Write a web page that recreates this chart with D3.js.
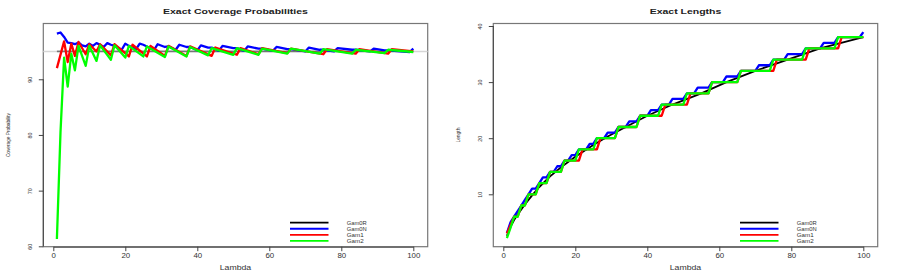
<!DOCTYPE html>
<html>
<head>
<meta charset="utf-8">
<script src="https://cdn.jsdelivr.net/npm/d3@7"></script>
<style>
  body { margin: 0; background: #fff; }
  svg text { font-family: "Liberation Sans", Arial, sans-serif; fill: #222; }
</style>
</head>
<body>
<svg id="chart" width="900" height="277"></svg>
<script>
// Series names, colours and tick values
const seriesNames = ["Gam0R", "Gam0N", "Gam1", "Gam2"];
const seriesColors = ["#000000", "#0000ff", "#ff0000", "#00ff00"];
const xTicks = [0, 20, 40, 60, 80, 100];
const covTicks = [60, 70, 80, 90];
const lenTicks = [10, 20, 30, 40];
const covTarget = 95;

// Coverage probabilities (%) as [lambda, value]
const covGam0R = [[1, 95], [100, 95]];
const covGam0N = [[1, 98.2], [2, 98.4], [3, 97.6], [4, 96.6], [5, 96.5], [6, 96.3], [7, 96.6], [8, 96.1], [9, 95.9],
  [10, 96.4], [11, 96.0], [12, 96.5], [13, 96.2], [14, 95.8], [15, 96.5], [16, 96.2], [17, 96.0], [19, 95.3],
  [20, 96.4], [21, 96.0], [23, 95.4], [24, 96.4], [25, 96.2], [26, 95.9], [28, 95.3], [29, 96.3], [31, 95.8],
  [32, 95.9], [34, 95.3], [35, 96.2], [37, 95.8], [38, 95.8], [40, 95.2], [41, 96.1], [43, 95.7], [44, 95.7],
  [46, 95.1], [47, 96.0], [50, 95.6], [51, 95.6], [53, 95.1], [54, 95.9], [57, 95.5], [58, 95.5], [61, 95.1],
  [62, 95.8], [65, 95.4], [66, 95.4], [70, 95.0], [71, 95.7], [74, 95.3], [75, 95.3], [78, 95.0], [79, 95.6],
  [83, 95.3], [84, 95.3], [88, 95.0], [89, 95.5], [92, 95.2], [93, 95.2], [99, 94.9], [100, 95.5]];
const covGam1 = [[1, 92.0], [3, 96.8], [4, 93.1], [5, 96.4], [6, 94.2], [7, 96.7], [9, 94.5], [10, 96.3], [12, 95.0],
  [13, 96.3], [16, 94.3], [17, 96.3], [21, 94.1], [22, 96.2], [26, 94.1], [27, 96.0], [31, 94.2], [32, 96.0],
  [37, 94.2], [38, 95.9], [44, 94.2], [45, 95.7], [51, 94.4], [52, 95.6], [57, 94.5], [58, 95.6], [65, 94.7],
  [66, 95.5], [75, 94.5], [76, 95.4], [84, 94.6], [85, 95.4], [93, 94.6], [94, 95.4], [100, 95.0]];
const covGam2 = [[1, 61.3], [2, 80.5], [3, 93.9], [4, 88.7], [5, 94.6], [6, 91.6], [7, 96.0], [9, 92.4], [10, 96.0],
  [12, 93.3], [13, 96.1], [16, 93.5], [17, 96.1], [20, 93.9], [21, 96.0], [25, 94.1], [26, 95.9], [31, 94.0],
  [32, 95.9], [37, 94.1], [38, 95.8], [43, 94.3], [44, 95.6], [50, 94.4], [51, 95.6], [57, 94.4], [58, 95.5],
  [65, 94.6], [66, 95.5], [74, 94.6], [75, 95.4], [83, 94.6], [84, 95.3], [92, 94.7], [93, 95.3], [100, 94.9]];

// Expected lengths as [lambda, value]
const lenGam0R = [[1, 2.6], [2, 4.2], [3, 5.4], [4, 6.4], [6, 8.2], [8, 9.8], [10, 11.3], [13, 13.2], [16, 14.8],
  [20, 16.7], [25, 18.8], [29, 20.3], [34, 22.0], [40, 24.0], [47, 26.0], [55, 28.0], [62, 30.0], [70, 32.0],
  [79, 34.0], [88, 36.0], [100, 38.0]];
const lenGam0N = [[1, 3.1], [2, 5], [3, 6], [4, 7], [5, 8], [6, 9], [7, 10], [8, 11], [9, 11], [10, 12], [11, 13],
  [12, 13], [13, 14], [14, 14], [15, 15], [16, 15], [17, 16], [18, 16], [19, 17], [20, 17], [21, 18], [23, 18],
  [24, 19], [25, 19], [26, 20], [28, 20], [29, 21], [31, 21], [32, 22], [34, 22], [35, 23], [37, 23], [38, 24],
  [40, 24], [41, 25], [43, 25], [44, 26], [46, 26], [47, 27], [50, 27], [51, 28], [53, 28], [54, 29], [57, 29],
  [58, 30], [61, 30], [62, 31], [65, 31], [66, 32], [70, 32], [71, 33], [74, 33], [75, 34], [78, 34], [79, 35],
  [83, 35], [84, 36], [88, 36], [89, 37], [92, 37], [93, 38], [99, 38], [100, 38.9]];
const lenGam1 = [[1, 3.0], [2, 4.5], [3, 6], [4, 6], [5, 8], [6, 8], [7, 10], [9, 10], [10, 12], [12, 12], [13, 14],
  [16, 14], [17, 16], [21, 16], [22, 18], [26, 18], [27, 20], [31, 20], [32, 22], [37, 22], [38, 24], [44, 24],
  [45, 26], [51, 26], [52, 28], [57, 28], [58, 30], [65, 30], [66, 32], [75, 32], [76, 34], [84, 34], [85, 36],
  [93, 36], [94, 38], [100, 38]];
const lenGam2 = [[1, 2.2], [2, 4], [3, 6], [4, 6], [5, 8], [6, 8], [7, 10], [9, 10], [10, 12], [12, 12], [13, 14],
  [16, 14], [17, 16], [20, 16], [21, 18], [25, 18], [26, 20], [31, 20], [32, 22], [37, 22], [38, 24], [43, 24],
  [44, 26], [50, 26], [51, 28], [57, 28], [58, 30], [65, 30], [66, 32], [74, 32], [75, 34], [83, 34], [84, 36],
  [92, 36], [93, 38], [100, 38]];

const svg = d3.select("#chart");

// Draws one R-style panel (box, axes, titles, series, legend)
function drawPanel(p) {
  const g = svg.append("g").attr("transform", `translate(${p.left},0)`);

  const xScale = d3.scaleLinear().domain([0, 100]).range([10, 370]);
  const yScale = d3.scaleLinear().domain(p.yDomain).range(p.yRange);

  const box = { x: 0, y: 23.5, w: 384.4, h: 223.2 };

  // plot box
  g.append("rect")
    .attr("x", box.x).attr("y", box.y)
    .attr("width", box.w).attr("height", box.h)
    .attr("fill", "none").attr("stroke", "#777").attr("stroke-width", 1.2);

  // reference line (abline)
  if (p.refLine != null) {
    g.append("line")
      .attr("x1", box.x).attr("x2", box.x + box.w)
      .attr("y1", yScale(p.refLine)).attr("y2", yScale(p.refLine))
      .attr("stroke", "#d6d6d6").attr("stroke-width", 1.5);
  }

  // x axis
  const xAxis = g.append("g")
    .attr("transform", `translate(0,${box.y + box.h})`)
    .call(d3.axisBottom(xScale).tickValues(xTicks).tickSize(4.5).tickSizeOuter(0));
  xAxis.select(".domain").attr("stroke", "#444");
  xAxis.selectAll(".tick line").attr("stroke", "#444");
  xAxis.selectAll("text")
    .attr("y", 11.6).attr("dy", null)
    .attr("font-size", "6.3px")
    .attr("textLength", (d) => String(d).length * 4.4)
    .attr("lengthAdjust", "spacingAndGlyphs")
    .style("fill", "#333");

  // y axis: R only draws the axis line between the first and last tick
  const yAxis = g.append("g")
    .call(d3.axisLeft(yScale).tickValues(p.yTicks).tickSize(4.5));
  yAxis.select(".domain").remove();
  yAxis.append("line")
    .attr("x1", 0).attr("x2", 0)
    .attr("y1", yScale(p.yTicks[0])).attr("y2", yScale(p.yTicks[p.yTicks.length - 1]))
    .attr("stroke", "#444");
  yAxis.selectAll(".tick line").attr("stroke", "#444");
  yAxis.selectAll("text")
    .attr("x", null).attr("dy", null)
    .attr("transform", "translate(-11.6,0) rotate(-90)")
    .attr("text-anchor", "middle")
    .attr("font-size", "5.6px")
    .attr("textLength", (d) => String(d).length * 3)
    .attr("lengthAdjust", "spacingAndGlyphs")
    .style("fill", "#333");

  // titles and axis labels
  g.append("text")
    .attr("x", box.x + box.w / 2).attr("y", 13.6)
    .attr("text-anchor", "middle")
    .attr("font-size", "7.4px").attr("font-weight", "bold")
    .attr("textLength", p.titleWidth).attr("lengthAdjust", "spacingAndGlyphs")
    .text(p.title);

  g.append("text")
    .attr("x", box.x + box.w / 2).attr("y", 270)
    .attr("text-anchor", "middle")
    .attr("font-size", "6.6px")
    .attr("textLength", 31.5).attr("lengthAdjust", "spacingAndGlyphs")
    .style("fill", "#333")
    .text("Lambda");

  g.append("text")
    .attr("transform", `translate(-33.3,${(box.y + box.y + box.h) / 2}) rotate(-90)`)
    .attr("text-anchor", "middle")
    .attr("font-size", "5.4px")
    .attr("textLength", p.yLabelWidth).attr("lengthAdjust", "spacingAndGlyphs")
    .style("fill", "#333")
    .text(p.yLabel);

  // series lines
  const line = d3.line()
    .x((d) => xScale(d[0]))
    .y((d) => yScale(d[1]));

  p.series.forEach((s, i) => {
    g.append("path")
      .datum(s)
      .attr("d", line)
      .attr("fill", "none")
      .attr("stroke", seriesColors[i])
      .attr("stroke-opacity", i === 0 && p.refLine != null ? 0.45 : 1)
      .attr("stroke-width", i === 0 ? 1.8 : 2.3)
      .attr("stroke-linejoin", "round");
  });

  // legend
  const legend = g.append("g").attr("transform", "translate(246.7,222.7)");
  seriesNames.forEach((name, i) => {
    legend.append("line")
      .attr("x1", 0).attr("x2", 38.5)
      .attr("y1", i * 6.05).attr("y2", i * 6.05)
      .attr("stroke", seriesColors[i]).attr("stroke-width", 1.8);
    legend.append("text")
      .attr("x", 56.7).attr("y", i * 6.05 + 2.1)
      .attr("font-size", "5.6px")
      .attr("textLength", name.length === 5 ? 20 : 17)
      .attr("lengthAdjust", "spacingAndGlyphs")
      .style("fill", "#333")
      .text(name);
  });
}

drawPanel({
  left: 43.3,
  title: "Exact Coverage Probabilities",
  titleWidth: 145,
  yLabel: "Coverage Probability",
  yLabelWidth: 44,
  yDomain: [60, 100],
  yRange: [246.3, 23.6],
  yTicks: covTicks,
  refLine: covTarget,
  series: [covGam0R, covGam0N, covGam1, covGam2]
});

drawPanel({
  left: 493.3,
  title: "Exact Lengths",
  titleWidth: 71.7,
  yLabel: "Length",
  yLabelWidth: 15,
  yDomain: [0, 40],
  yRange: [250.4, 26],
  yTicks: lenTicks,
  refLine: null,
  series: [lenGam0R, lenGam0N, lenGam1, lenGam2]
});
</script>
</body>
</html>
